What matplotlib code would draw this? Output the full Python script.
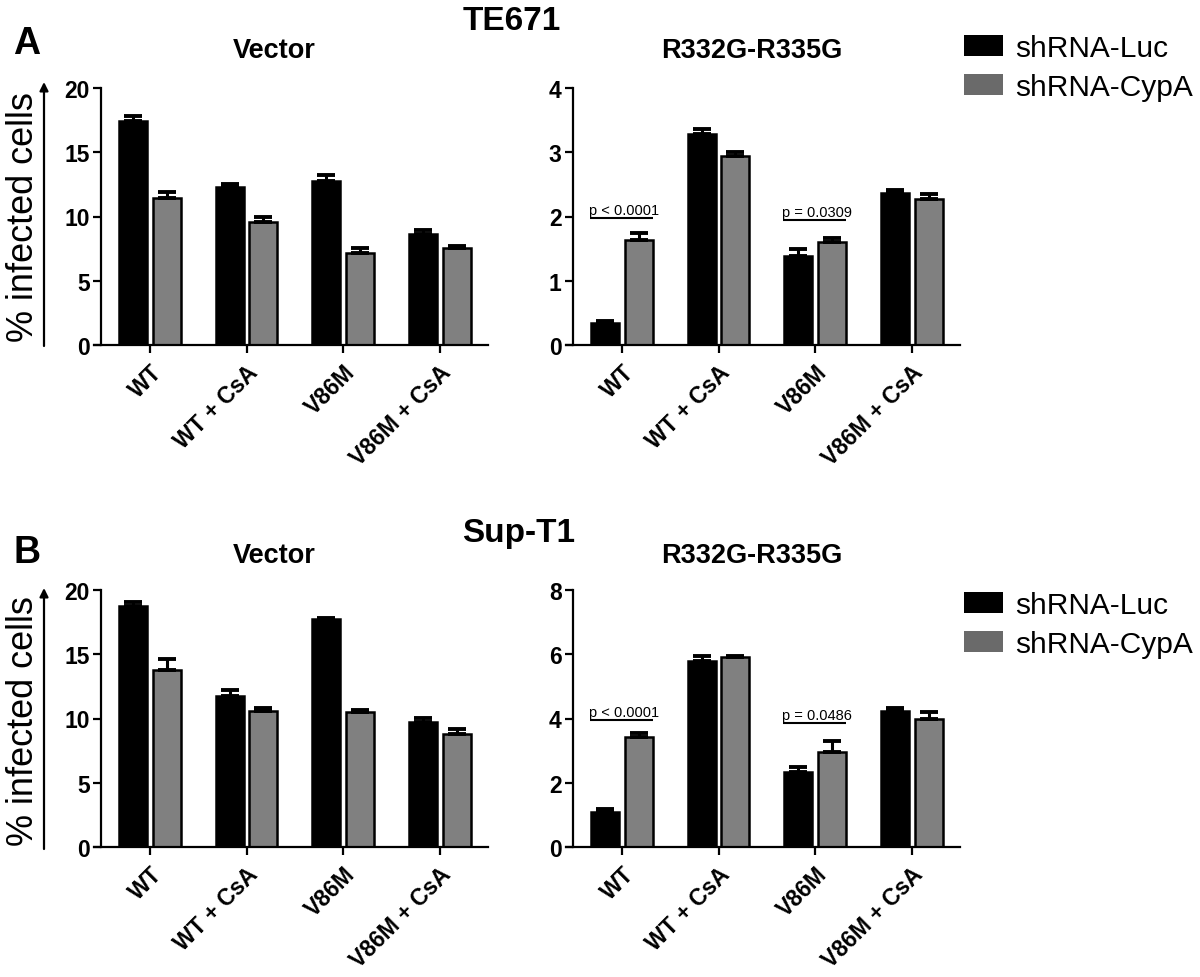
import numpy as np
import matplotlib
matplotlib.use("Agg")
import matplotlib.pyplot as plt
from matplotlib.patches import Patch, FancyArrowPatch

plt.rcParams['font.family'] = ['Liberation Sans', 'DejaVu Sans']

categories = ["WT", "WT + CsA", "V86M", "V86M + CsA"]
series_names = ["shRNA-Luc", "shRNA-CypA"]

# TE671
te_vec_luc = [17.45, 12.3, 12.8, 8.65]
te_vec_luc_err = [0.4, 0.2, 0.4, 0.3]
te_vec_cyp = [11.45, 9.55, 7.13, 7.55]
te_vec_cyp_err = [0.45, 0.45, 0.4, 0.15]
te_mut_luc = [0.34, 3.28, 1.39, 2.36]
te_mut_luc_err = [0.03, 0.08, 0.1, 0.05]
te_mut_cyp = [1.63, 2.94, 1.61, 2.28]
te_mut_cyp_err = [0.12, 0.06, 0.06, 0.07]
# Sup-T1
st_vec_luc = [18.78, 11.75, 17.72, 9.7]
st_vec_luc_err = [0.3, 0.5, 0.08, 0.33]
st_vec_cyp = [13.75, 10.6, 10.48, 8.79]
st_vec_cyp_err = [0.85, 0.18, 0.2, 0.39]
st_mut_luc = [1.09, 5.78, 2.33, 4.22]
st_mut_luc_err = [0.1, 0.18, 0.17, 0.11]
st_mut_cyp = [3.41, 5.9, 2.95, 3.97]
st_mut_cyp_err = [0.15, 0.03, 0.36, 0.22]

# p-value annotations: (group index, y level, text)
te_pvals = [(0, 1.97, "p < 0.0001"), (2, 1.95, "p = 0.0309")]
st_pvals = [(0, 3.95, "p < 0.0001"), (2, 3.87, "p = 0.0486")]

C_LUC = "#000000"
C_CYP = "#808080"
C_CYP_LEG = "#6a6a6a"

W, H = 1200, 978
fig = plt.figure(figsize=(12, 9.78), dpi=100)

def fx(px):
    return px / W

def fy(py):
    return 1 - py / H

def make_ax(left_px, top_px, bottom_px, right_px):
    return fig.add_axes([fx(left_px), fy(bottom_px), fx(right_px - left_px), (bottom_px - top_px) / H])

def draw_panel(ax, luc, luc_err, cyp, cyp_err, ymax, ystep, pvals=None):
    x = np.arange(len(categories))
    off = 0.175
    bw = 0.29
    ax.bar(x - off, luc, bw, color=C_LUC, edgecolor='black', linewidth=1.8, zorder=2)
    ax.bar(x + off, cyp, bw, color=C_CYP, edgecolor='black', linewidth=1.8, zorder=2)
    ax.errorbar(x - off, luc, yerr=[np.zeros(len(luc)), luc_err], fmt='none', ecolor='black',
                elinewidth=2.2, capsize=6.5, capthick=2.8, zorder=3)
    ax.errorbar(x + off, cyp, yerr=[np.zeros(len(cyp)), cyp_err], fmt='none', ecolor='black',
                elinewidth=2.2, capsize=6.5, capthick=2.8, zorder=3)
    for sp in ['top', 'right']:
        ax.spines[sp].set_visible(False)
    ax.spines['left'].set_position(('data', -0.51))
    ax.spines['left'].set_linewidth(1.6)
    ax.spines['bottom'].set_linewidth(1.6)
    ax.tick_params(axis='both', direction='out', length=6, width=1.6)
    ax.tick_params(axis='y', pad=2)
    ax.tick_params(axis='x', pad=5)
    ax.set_xlim(-0.58, 3.5)
    ax.set_ylim(0, ymax)
    yt = np.arange(0, ymax + 0.001, ystep)
    ax.set_yticks(yt)
    ax.set_yticklabels([f"{v:g}" for v in yt], fontsize=16.5, fontweight='bold')
    ax.set_xticks(x)
    ax.set_xticklabels(categories, rotation=45, ha='right', va='top', rotation_mode='anchor',
                       fontsize=16.5, fontweight='bold')
    if pvals:
        for gi, yv, txt in pvals:
            ax.plot([gi - 0.33, gi + 0.32], [yv, yv], color='black', lw=1.5, zorder=4,
                    solid_capstyle='butt')
            ax.annotate(txt, xy=(gi + 0.02, yv), xytext=(0, 3), textcoords='offset points',
                        ha='center', va='baseline', fontsize=10.5)

ax1 = make_ax(94, 89, 346, 488)
draw_panel(ax1, te_vec_luc, te_vec_luc_err, te_vec_cyp, te_vec_cyp_err, 20, 5)
ax2 = make_ax(566, 89, 346, 960)
draw_panel(ax2, te_mut_luc, te_mut_luc_err, te_mut_cyp, te_mut_cyp_err, 4, 1, te_pvals)
ax3 = make_ax(94, 591, 848, 488)
draw_panel(ax3, st_vec_luc, st_vec_luc_err, st_vec_cyp, st_vec_cyp_err, 20, 5)
ax4 = make_ax(566, 591, 848, 960)
draw_panel(ax4, st_mut_luc, st_mut_luc_err, st_mut_cyp, st_mut_cyp_err, 8, 2, st_pvals)

# Titles
fig.text(fx(512), fy(22), "TE671", ha='center', va='center', fontsize=24, fontweight='bold')
fig.text(fx(519), fy(534), "Sup-T1", ha='center', va='center', fontsize=24, fontweight='bold')
for yc in (51, 556):
    fig.text(fx(274), fy(yc), "Vector", ha='center', va='center', fontsize=19.5, fontweight='bold')
    fig.text(fx(752), fy(yc), "R332G-R335G", ha='center', va='center', fontsize=19.5, fontweight='bold')
fig.text(fx(27), fy(44), "A", ha='center', va='center', fontsize=27, fontweight='bold')
fig.text(fx(27), fy(553), "B", ha='center', va='center', fontsize=27, fontweight='bold')

# y labels with arrows
for top_px, bot_px in ((83, 347), (589, 850)):
    fig.text(fx(24), fy((top_px + bot_px) / 2 + 2), "% infected cells", rotation=90,
             ha='center', va='center', fontsize=26)
    arr = FancyArrowPatch((fx(44), fy(bot_px)), (fx(44), fy(top_px)), transform=fig.transFigure,
                          arrowstyle='-|>,head_length=5,head_width=2.5', color='black', lw=1.6,
                          shrinkA=0, shrinkB=0)
    fig.add_artist(arr)

# legends
handles = [Patch(facecolor=C_LUC, edgecolor='none'), Patch(facecolor=C_CYP_LEG, edgecolor='none')]
for top_px in (35, 592):
    fig.legend(handles, series_names, loc='upper left', bbox_to_anchor=(fx(964), fy(top_px)),
               frameon=False, fontsize=21.5, handlelength=1.3, handleheight=0.7,
               handletextpad=0.4, labelspacing=0.38, borderpad=0, borderaxespad=0)

fig.savefig("out.png", dpi=100)
